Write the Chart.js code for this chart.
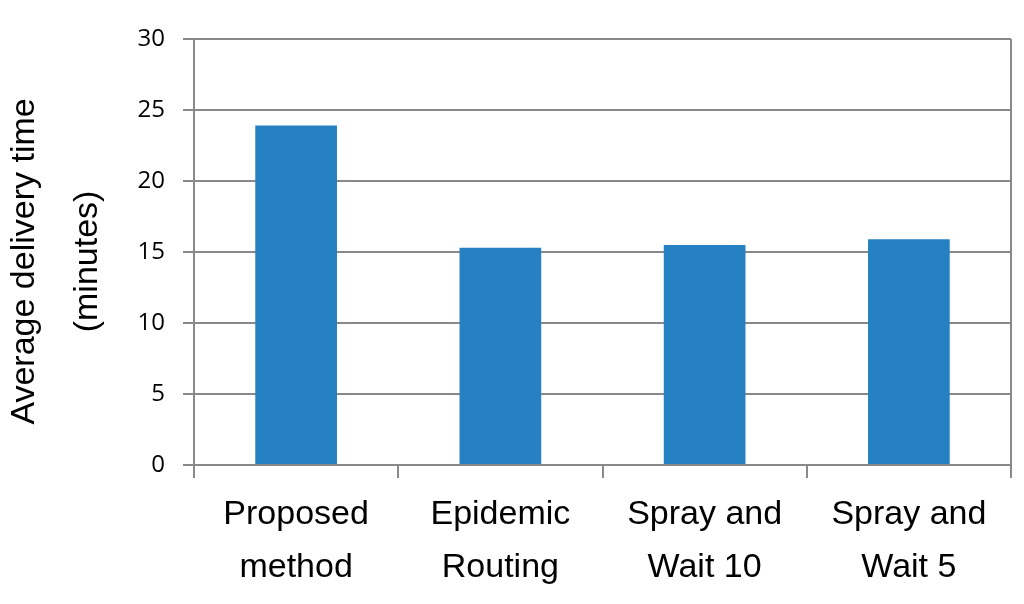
<!DOCTYPE html>
<html>
<head>
<meta charset="utf-8">
<script src="https://cdn.jsdelivr.net/npm/chart.js@4/dist/chart.umd.min.js"></script>
<style>
  html, body { margin: 0; padding: 0; background: #fff; }
  #wrap { width: 1024px; height: 604px; position: relative; }
</style>
</head>
<body>
<div id="wrap"><canvas id="deliveryChart"></canvas></div>
<script>
// categories, split over two lines like the original
const methods = [
    ['Proposed', 'method'],
    ['Epidemic', 'Routing'],
    ['Spray and', 'Wait 10'],
    ['Spray and', 'Wait 5']
];
const avgDeliveryTime = [23.9, 15.3, 15.5, 15.9];
const yTicks = [0, 5, 10, 15, 20, 25, 30];

const GRID = '#898989';
const BAR = '#2581c2';

document.addEventListener('DOMContentLoaded', function () {
    const ctx = document.getElementById('deliveryChart').getContext('2d');

    new Chart(ctx, {
        type: 'bar',
        data: {
            labels: methods,
            datasets: [{
                data: avgDeliveryTime,
                backgroundColor: BAR,
                borderWidth: 0,
                barPercentage: 0.4,
                categoryPercentage: 1
            }]
        },
        options: {
            responsive: true,
            maintainAspectRatio: false,
            animation: false,
            layout: {
                padding: { top: 39, right: 13, bottom: 0, left: 0 }
            },
            plugins: {
                legend: { display: false },
                tooltip: { enabled: false }
            },
            scales: {
                x: {
                    offset: true,
                    grid: {
                        offset: true,
                        // only the right edge is drawn through the plot
                        color: c => c.type === 'scale' ? GRID : 'transparent',
                        tickColor: GRID,
                        lineWidth: 2,
                        tickWidth: 2,
                        tickLength: 13
                    },
                    border: { display: true, color: GRID, width: 2 },
                    ticks: {
                        color: '#000',
                        padding: 10,
                        maxRotation: 0,
                        autoSkip: false,
                        font: { family: '"Liberation Sans", Arial, sans-serif', size: 34, lineHeight: 1.56 }
                    },
                    afterFit: scale => { scale.height = 604 - 465; }
                },
                y: {
                    min: 0,
                    max: 30,
                    afterBuildTicks: scale => {
                        scale.ticks = yTicks.map(v => ({ value: v }));
                    },
                    grid: {
                        color: GRID,
                        lineWidth: 2,
                        tickLength: 11
                    },
                    border: { display: true, color: GRID, width: 2 },
                    ticks: {
                        color: '#000',
                        padding: 18,
                        font: { family: '"Open Sans", sans-serif', size: 24 }
                    },
                    title: {
                        display: true,
                        // trailing spaces nudge the centred title down a little
                        text: ['Average delivery time  ', '(minutes)  '],
                        color: '#000',
                        padding: { top: -7, bottom: 0 },
                        font: { family: '"Liberation Sans", Arial, sans-serif', size: 34, lineHeight: 1.85 }
                    },
                    afterFit: scale => { scale.width = 194; }
                }
            }
        }
    });
});
</script>
</body>
</html>
